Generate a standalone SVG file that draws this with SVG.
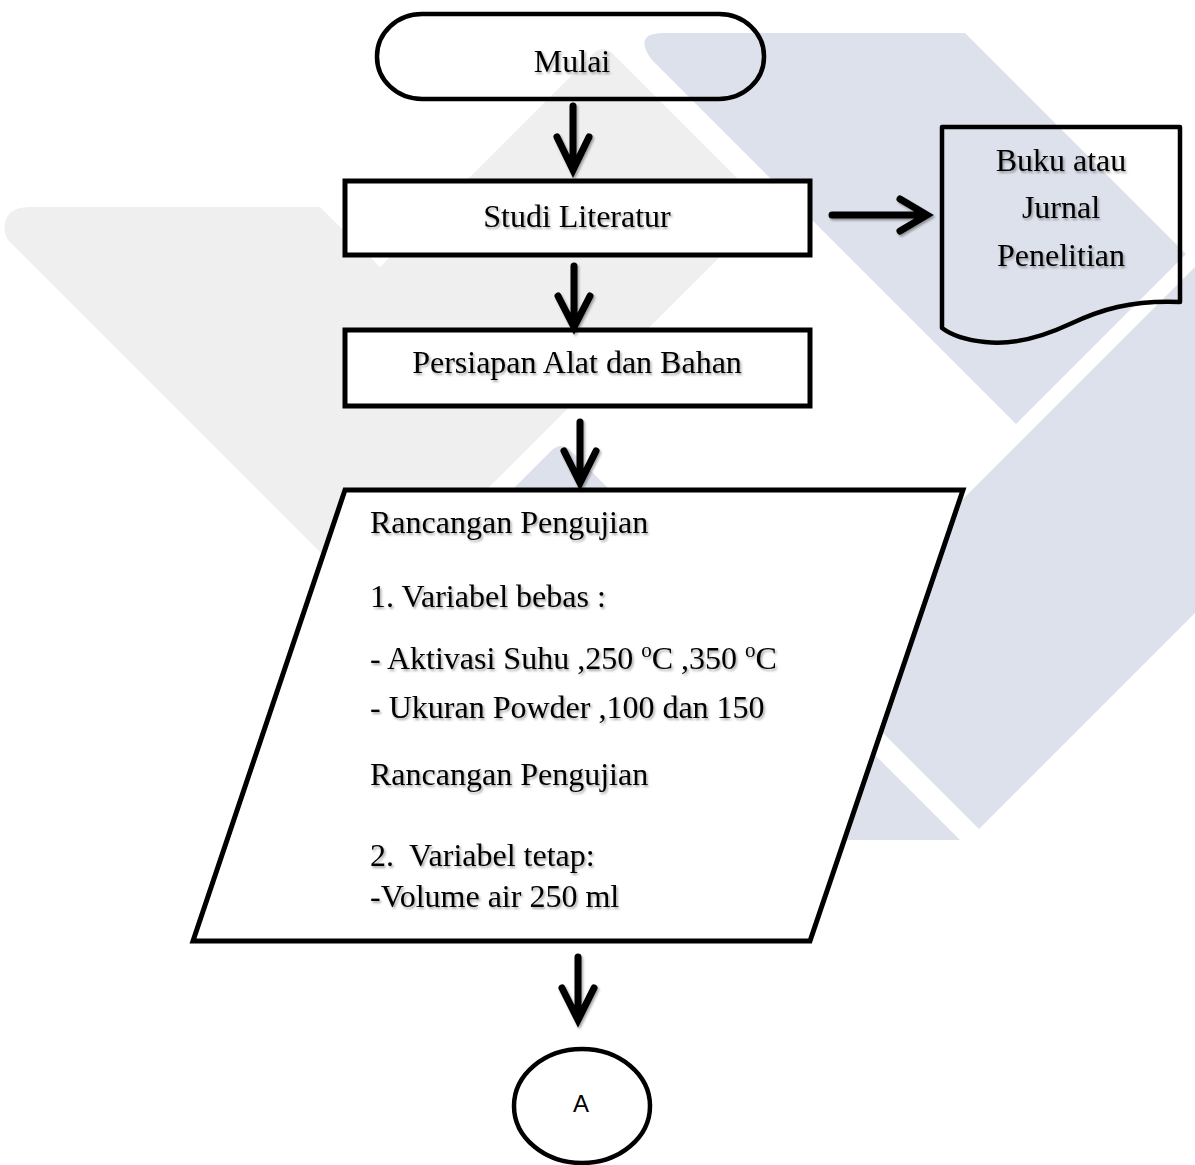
<svg xmlns="http://www.w3.org/2000/svg" width="1195" height="1165" viewBox="0 0 1195 1165">
  <defs>
    <filter id="shadow" x="-10%" y="-10%" width="130%" height="140%">
      <feDropShadow dx="1.5" dy="2" stdDeviation="1.2" flood-color="#000" flood-opacity="0.35"/>
    </filter>
    <style>
      .wm-grey { fill: #efefef; }
      .wm-blue { fill: #dde1eb; }
      .box { fill: #ffffff; stroke: #000; stroke-width: 5; }
      .outline { fill: none; stroke: #000; stroke-width: 4.5; stroke-linejoin: round; }
      .lbl { font-family: "Liberation Serif", "Times New Roman", serif; font-size: 32px; fill: #000; filter: url(#shadow); }
      .mid { text-anchor: middle; }
      .sans { font-family: "Liberation Sans", Arial, sans-serif; font-size: 24px; fill: #000; text-anchor: middle; }
      .arrow { fill: none; stroke: #000; stroke-width: 7; stroke-linecap: round; stroke-linejoin: miter; filter: url(#shadow); }
    </style>
  </defs>

  <rect width="1195" height="1165" fill="#ffffff"/>

  <!-- watermark background -->
  <g id="watermark">
    <path class="wm-grey" d="M8,240 Q0,225 10,213 Q16,207 30,207 L320,207 L380,267 L593,54 Q603,44 613,54 L768,209 L372,604 Z"/>
    <path class="wm-blue" d="M652,60 Q632,33 664,33 L965,33 L1186,254 L1016,424 Z"/>
    <path class="wm-blue" d="M1195,267 L806,656 L979,829 L1195,613 Z"/>
    <path class="wm-blue" d="M551,451 Q561,441 571,451 L960,840 L300,840 L512,490 Z"/>
  </g>

  <!-- nodes -->
  <g id="node-mulai">
    <rect class="outline" x="377" y="14" width="387" height="85" rx="45" ry="42"/>
    <text class="lbl mid" x="572" y="72">Mulai</text>
  </g>

  <g id="node-studi">
    <rect class="box" x="345" y="181" width="465" height="74"/>
    <text class="lbl mid" x="577" y="227">Studi Literatur</text>
  </g>

  <g id="node-buku">
    <path class="outline" d="M942,127 L1180,127 L1180,302 C1130,300 1100,310 1070,324 C1040,338 1010,345 985,342 C965,340 950,334 942,328 Z"/>
    <text class="lbl mid" x="1061" y="171">Buku atau</text>
    <text class="lbl mid" x="1061" y="218">Jurnal</text>
    <text class="lbl mid" x="1061" y="266">Penelitian</text>
  </g>

  <g id="node-persiapan">
    <rect class="box" x="345" y="330" width="465" height="76"/>
    <text class="lbl mid" x="577" y="373">Persiapan Alat dan Bahan</text>
  </g>

  <g id="node-rancangan">
    <path class="box" d="M345,490 L963,490 L810,941 L193,941 Z" stroke-linejoin="miter"/>
    <text class="lbl" x="370" y="533">Rancangan Pengujian</text>
    <text class="lbl" x="370" y="607">1. Variabel bebas :</text>
    <text class="lbl" x="370" y="669">- Aktivasi Suhu ,250 <tspan font-size="21" dy="-12">o</tspan><tspan dy="12">C ,350 </tspan><tspan font-size="21" dy="-12">o</tspan><tspan dy="12">C</tspan></text>
    <text class="lbl" x="370" y="718">- Ukuran Powder ,100 dan 150</text>
    <text class="lbl" x="370" y="785">Rancangan Pengujian</text>
    <text class="lbl" x="370" y="866">2.<tspan x="409">Variabel tetap:</tspan></text>
    <text class="lbl" x="370" y="907">-Volume air 250 ml</text>
  </g>

  <g id="node-a">
    <ellipse cx="582" cy="1106" rx="68" ry="57" fill="#ffffff" stroke="#000" stroke-width="4.5"/>
    <text class="sans" x="581" y="1112">A</text>
  </g>

  <!-- connectors -->
  <g id="connectors">
    <path class="arrow" d="M573,106 V164 M557,137 L573,170 L589,137"/>
    <path class="arrow" d="M574,266 V321 M558,296 L574,327 L590,296"/>
    <path class="arrow" d="M580,422 V477 M564,451 L580,483 L596,451"/>
    <path class="arrow" d="M578,957 V1014 M562,988 L578,1020 L594,988"/>
    <path class="arrow" d="M832,215 H921 M900,199 L927,215 L900,231"/>
  </g>
</svg>
